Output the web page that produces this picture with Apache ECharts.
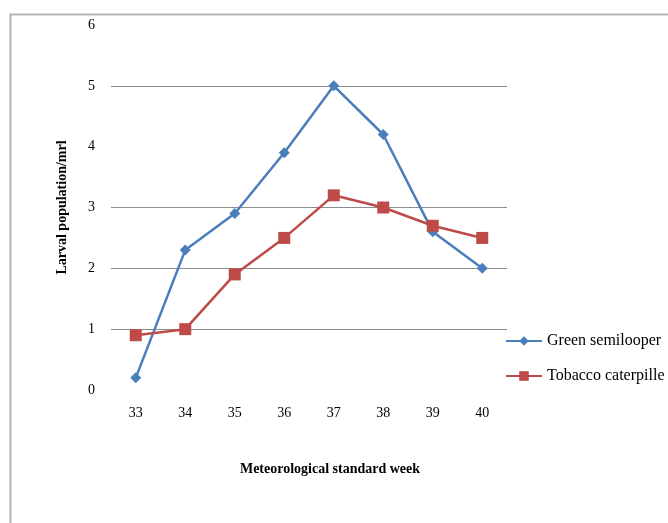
<!DOCTYPE html>
<html>
<head>
<meta charset="utf-8">
<script src="https://cdn.jsdelivr.net/npm/echarts@6/dist/echarts.min.js"></script>
<style>html,body{margin:0;padding:0;background:#fff;}#c{width:668px;height:523px;}</style>
</head>
<body>
<div id="c"></div>
<script>
var weeks = ['33','34','35','36','37','38','39','40'];
var greenSemilooper = [0.2, 2.3, 2.9, 3.9, 5.0, 4.2, 2.6, 2.0];
var tobaccoCaterpillar = [0.9, 1.0, 1.9, 2.5, 3.2, 3.0, 2.7, 2.5];
var seriesNames = ['Green semilooper', 'Tobacco caterpillar'];

var chart = echarts.init(document.getElementById('c'), null, {renderer: 'canvas'});
var serif = 'Liberation Serif, Times New Roman, serif';
chart.setOption({
  animation: false,
  backgroundColor: '#fff',
  graphic: [{
    type: 'rect', left: 8, top: 12, shape: {width: 800, height: 600},
    style: {fill: 'none', stroke: '#b3b3b3', lineWidth: 2}, z: -10
  }],
  grid: {left: 111, right: 161, top: 25, bottom: 133},
  legend: {
    orient: 'vertical', left: 505, top: 333, itemGap: 19, padding: 0,
    itemWidth: 36, itemHeight: 12,
    textStyle: {fontFamily: serif, fontSize: 16, color: '#000'},
    formatter: function (n) { return n === 'Tobacco caterpillar' ? 'Tobacco caterpille' : n; },
    data: seriesNames
  },
  xAxis: {
    type: 'category', data: weeks, boundaryGap: true,
    axisLine: {show: false}, axisTick: {show: false},
    axisLabel: {fontFamily: serif, fontSize: 14, color: '#000', margin: 16},
    name: 'Meteorological standard week', nameLocation: 'middle', nameGap: 72,
    nameTextStyle: {fontFamily: serif, fontSize: 14, fontWeight: 'bold', color: '#000', padding: [0, 0, 0, 42]}
  },
  yAxis: {
    type: 'value', min: 0, max: 6, interval: 1,
    axisLine: {show: false}, axisTick: {show: false},
    axisLabel: {fontFamily: serif, fontSize: 14, color: '#000', margin: 16},
    splitLine: {show: true, lineStyle: {color: ['rgba(0,0,0,0)', '#8c8c8c', '#8c8c8c', '#8c8c8c', 'rgba(0,0,0,0)', '#8c8c8c', 'rgba(0,0,0,0)'], width: 1}},
    name: 'Larval population/mrl', nameLocation: 'middle', nameGap: 42, nameRotate: 90,
    nameTextStyle: {fontFamily: serif, fontSize: 14, fontWeight: 'bold', color: '#000'}
  },
  series: [{
    name: seriesNames[0], type: 'line', data: greenSemilooper,
    symbol: 'diamond', symbolSize: 11,
    lineStyle: {color: '#4a7ebb', width: 2.5},
    itemStyle: {color: '#4a7ebb'}
  }, {
    name: seriesNames[1], type: 'line', data: tobaccoCaterpillar,
    symbol: 'rect', symbolSize: 12,
    lineStyle: {color: '#be4b48', width: 2.5},
    itemStyle: {color: '#be4b48'}
  }]
});
</script>
</body>
</html>
